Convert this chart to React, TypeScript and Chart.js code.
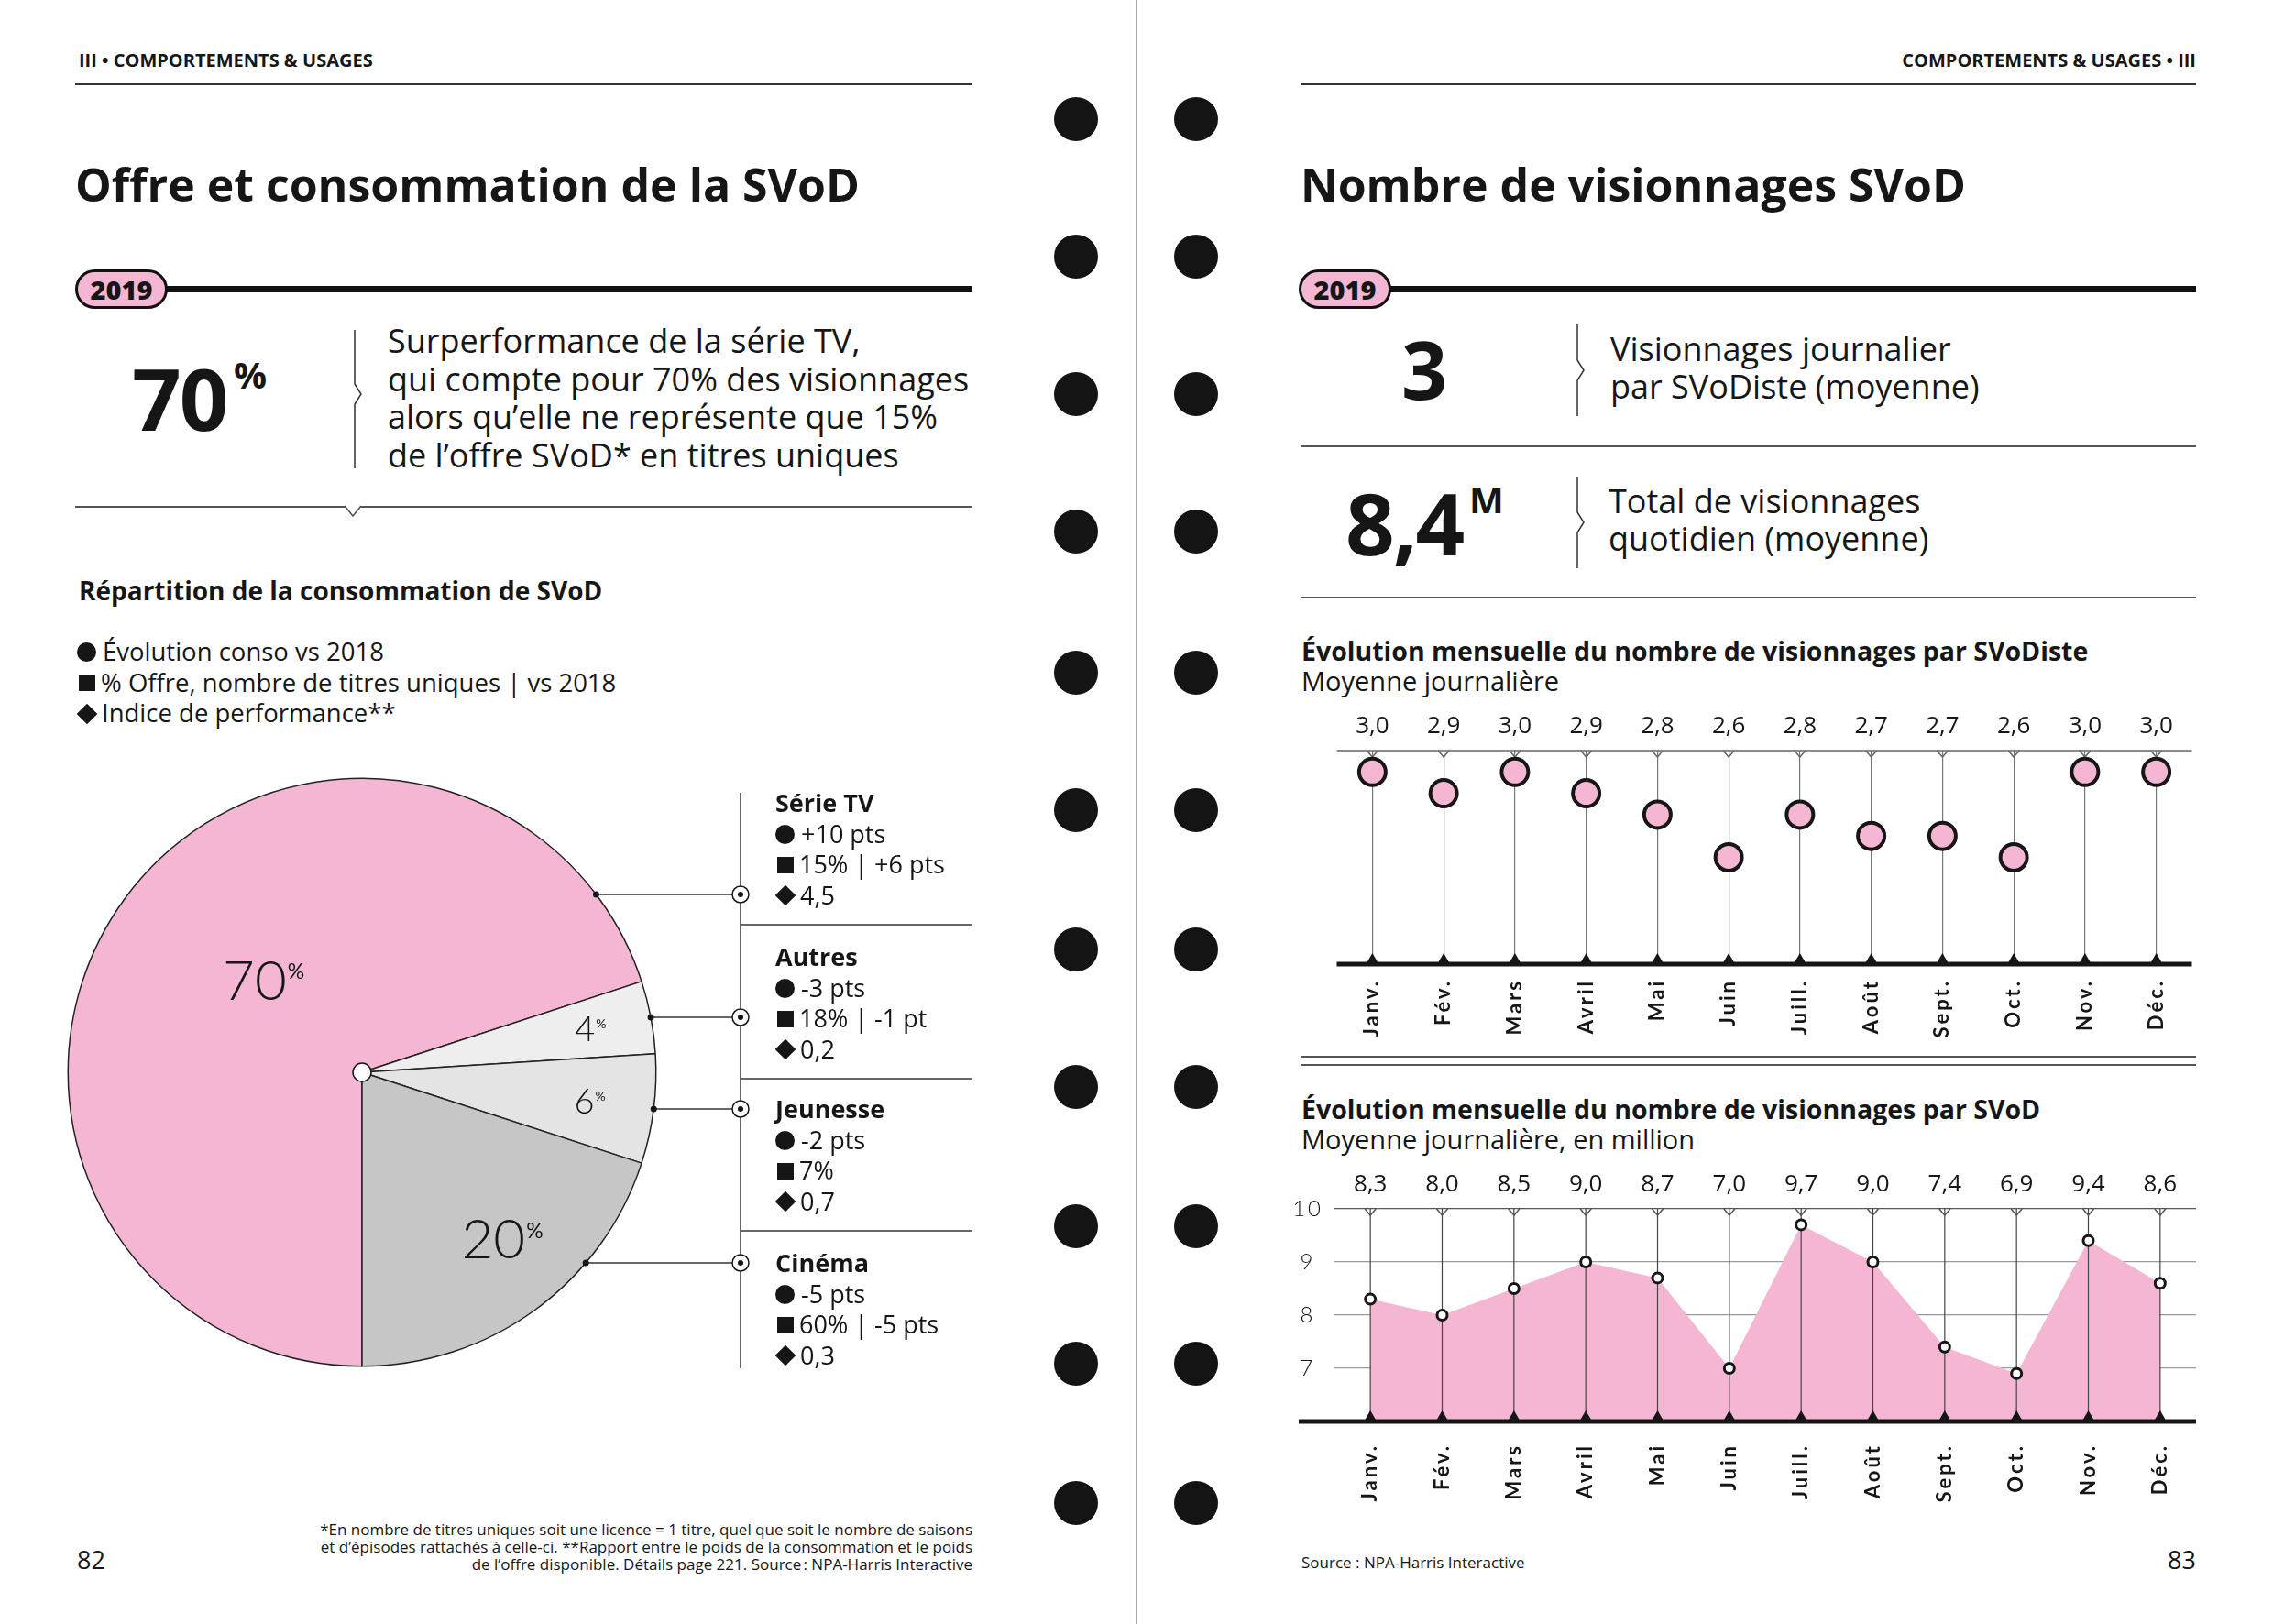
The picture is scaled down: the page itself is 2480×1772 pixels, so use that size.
import React, { useEffect, useRef } from 'react';
import { Chart, registerables } from 'chart.js';

Chart.register(...registerables);

// ---------------- data ----------------
const pieCategories = ['Série TV', 'Autres', 'Jeunesse', 'Cinéma'];
const pieShares = [70, 4, 6, 20];
const consoVs2018 = ['+10 pts', '-3 pts', '-2 pts', '-5 pts'];
const offreTitres = ['15% | +6 pts', '18% | -1 pt', '7%', '60% | -5 pts'];
const indicePerf = ['4,5', '0,2', '0,7', '0,3'];

const months = ['Janv.', 'Fév.', 'Mars', 'Avril', 'Mai', 'Juin', 'Juill.', 'Août', 'Sept.', 'Oct.', 'Nov.', 'Déc.'];
const visionnagesParSvodiste = [3.0, 2.9, 3.0, 2.9, 2.8, 2.6, 2.8, 2.7, 2.7, 2.6, 3.0, 3.0];
const visionnagesTotalM = [8.3, 8.0, 8.5, 9.0, 8.7, 7.0, 9.7, 9.0, 7.4, 6.9, 9.4, 8.6];
const totalAxisTicks = [7, 8, 9, 10];

// ---------------- style ----------------
const PINK = '#f5b6d3';
const INK = '#161616';
const FONT = "'Open Sans', 'Noto Sans', sans-serif";
const CFONT = "Lato, 'Noto Sans', sans-serif";
const pieColors = [PINK, '#eeeeee', '#e4e4e4', '#c6c6c6'];
const PIE_LABEL_R = [0.46, 0.79, 0.78, 0.74];
const PIE_LABEL_DA = [7, 0, 0, -4]; // degrees shift from slice middle
const PIE_LABEL_SIZE = [60, 38, 38, 60];

const fmt = (v: number) => v.toFixed(1).replace('.', ',');

// pie canvas geometry (page coords)
const PIE_LEFT = 40;
const PIE_TOP = 820;
const PIE_W = 1030;
const PIE_H = 700;

function drawPct(ctx: CanvasRenderingContext2D, x: number, y: number, num: string, size: number) {
  ctx.textAlign = 'left';
  ctx.textBaseline = 'alphabetic';
  ctx.font = `300 ${size}px ${CFONT}`;
  const w1 = ctx.measureText(num).width;
  const s2 = Math.round(size * 0.38);
  ctx.font = `400 ${s2}px ${CFONT}`;
  const w2 = ctx.measureText('%').width;
  const x0 = x - (w1 + w2) / 2;
  const base = y + size * 0.36;
  ctx.fillStyle = INK;
  ctx.font = `300 ${size}px ${CFONT}`;
  ctx.fillText(num, x0, base);
  ctx.font = `400 ${s2}px ${CFONT}`;
  ctx.fillText('%', x0 + w1 + 1, base - size * 0.38);
}

function seg(ctx: CanvasRenderingContext2D, x1: number, y1: number, x2: number, y2: number) {
  ctx.beginPath();
  ctx.moveTo(x1, y1);
  ctx.lineTo(x2, y2);
  ctx.stroke();
}

const piePlugin = {
  id: 'pieDecor',
  afterDatasetsDraw(chart: any) {
    const ctx: CanvasRenderingContext2D = chart.ctx;
    const arcs = chart.getDatasetMeta(0).data;
    const cx = arcs[0].x;
    const cy = arcs[0].y;
    const r = arcs[0].outerRadius;
    ctx.save();
    arcs.forEach((arc: any, i: number) => {
      const a = (arc.startAngle + arc.endAngle) / 2 + (PIE_LABEL_DA[i] * Math.PI) / 180;
      const f = PIE_LABEL_R[i];
      drawPct(ctx, cx + Math.cos(a) * r * f, cy + Math.sin(a) * r * f, String(pieShares[i]), PIE_LABEL_SIZE[i]);
    });
    // centre
    ctx.beginPath();
    ctx.arc(cx, cy, 10, 0, Math.PI * 2);
    ctx.fillStyle = '#fff';
    ctx.fill();
    ctx.lineWidth = 1.5;
    ctx.strokeStyle = INK;
    ctx.stroke();
    // callout column
    const colX = 808 - PIE_LEFT;
    const colRight = 1061 - PIE_LEFT;
    ctx.strokeStyle = '#333';
    ctx.lineWidth = 1.5;
    seg(ctx, colX, 865 - PIE_TOP, colX, 1493 - PIE_TOP);
    [1009, 1177, 1343].forEach((y) => seg(ctx, colX, y - PIE_TOP, colRight, y - PIE_TOP));
    const rows = [976, 1110, 1210, 1378];
    rows.forEach((py) => {
      const y = py - PIE_TOP;
      const dy = y - cy;
      const ex = cx + Math.sqrt(Math.max(r * r - dy * dy, 0));
      ctx.strokeStyle = '#333';
      ctx.lineWidth = 1.5;
      seg(ctx, ex, y, colX, y);
      ctx.fillStyle = INK;
      ctx.beginPath();
      ctx.arc(ex, y, 3.5, 0, Math.PI * 2);
      ctx.fill();
      ctx.beginPath();
      ctx.arc(colX, y, 9, 0, Math.PI * 2);
      ctx.fillStyle = '#fff';
      ctx.fill();
      ctx.strokeStyle = INK;
      ctx.stroke();
      ctx.beginPath();
      ctx.arc(colX, y, 3, 0, Math.PI * 2);
      ctx.fillStyle = INK;
      ctx.fill();
    });
    ctx.restore();
  },
};

function drawTopNotches(chart: any, color: string) {
  const ctx: CanvasRenderingContext2D = chart.ctx;
  const { top } = chart.chartArea;
  const xs = chart.scales.x;
  ctx.save();
  ctx.strokeStyle = color;
  ctx.lineWidth = 1.5;
  for (let i = 0; i < months.length; i++) {
    const x = xs.getPixelForTick(i);
    ctx.beginPath();
    ctx.moveTo(x - 6, top);
    ctx.lineTo(x, top + 7);
    ctx.lineTo(x + 6, top);
    ctx.stroke();
  }
  ctx.restore();
}

function drawBottom(chart: any, fromX: number) {
  const ctx: CanvasRenderingContext2D = chart.ctx;
  const { right, bottom } = chart.chartArea;
  const xs = chart.scales.x;
  ctx.save();
  ctx.fillStyle = INK;
  for (let i = 0; i < months.length; i++) {
    const x = xs.getPixelForTick(i);
    ctx.beginPath();
    ctx.moveTo(x - 7, bottom);
    ctx.lineTo(x, bottom - 12);
    ctx.lineTo(x + 7, bottom);
    ctx.closePath();
    ctx.fill();
  }
  ctx.fillRect(fromX, bottom - 2.5, right - fromX, 5);
  ctx.restore();
}

function drawValues(chart: any, values: number[]) {
  const ctx: CanvasRenderingContext2D = chart.ctx;
  const { top } = chart.chartArea;
  const xs = chart.scales.x;
  ctx.save();
  (ctx as any).letterSpacing = '0px';
  ctx.fillStyle = INK;
  ctx.font = `500 26px ${FONT}`;
  ctx.textAlign = 'center';
  ctx.textBaseline = 'middle';
  values.forEach((v, i) => ctx.fillText(fmt(v), xs.getPixelForTick(i), top - 26));
  ctx.restore();
}

const lollipopPlugin = {
  id: 'lollipopDecor',
  beforeDraw(chart: any) {
    (chart.ctx as any).letterSpacing = '3px';
  },
  beforeDatasetsDraw(chart: any) {
    const ctx: CanvasRenderingContext2D = chart.ctx;
    (ctx as any).letterSpacing = '0px';
    const { left, right, top } = chart.chartArea;
    ctx.save();
    ctx.strokeStyle = '#666';
    ctx.lineWidth = 1.5;
    seg(ctx, left, top, right, top);
    ctx.restore();
    drawTopNotches(chart, '#666');
  },
  afterDatasetsDraw(chart: any) {
    drawBottom(chart, chart.chartArea.left);
  },
  afterDraw(chart: any) {
    drawValues(chart, visionnagesParSvodiste);
  },
};

const areaPlugin = {
  id: 'areaDecor',
  beforeDraw(chart: any) {
    (chart.ctx as any).letterSpacing = '3px';
  },
  beforeDatasetsDraw(chart: any) {
    (chart.ctx as any).letterSpacing = '0px';
  },
  afterDatasetDraw(chart: any, args: any) {
    if (args.index !== 0) return;
    const ctx: CanvasRenderingContext2D = chart.ctx;
    const { top, bottom } = chart.chartArea;
    const xs = chart.scales.x;
    ctx.save();
    ctx.strokeStyle = '#444';
    ctx.lineWidth = 1.2;
    for (let i = 0; i < months.length; i++) {
      const x = xs.getPixelForTick(i);
      seg(ctx, x, top, x, bottom);
    }
    ctx.restore();
    drawTopNotches(chart, '#555');
  },
  afterDatasetsDraw(chart: any) {
    drawBottom(chart, 17);
  },
  afterDraw(chart: any) {
    drawValues(chart, visionnagesTotalM);
  },
};

const monthTicks = {
  autoSkip: false,
  maxRotation: 90,
  minRotation: 90,
  padding: 16,
  color: INK,
  font: { family: CFONT, size: 22, weight: 'bold' as const },
};

// ---------------- small layout helpers ----------------
const abs = (x: number, y: number, extra: any = {}) => ({ position: 'absolute' as const, left: x, top: y, ...extra });

function Txt({ x, y, size, weight = 400, lh, children, right, style }: any) {
  const s: any = {
    position: 'absolute',
    top: y,
    fontSize: size,
    fontWeight: weight,
    lineHeight: `${lh ?? Math.round(size * 1.2)}px`,
    whiteSpace: 'pre',
    ...style,
  };
  if (right !== undefined) {
    s.right = 2480 - right;
    s.textAlign = 'right';
  } else s.left = x;
  return <div style={s}>{children}</div>;
}

function HLine({ x1, x2, y, h = 2, color = '#444' }: any) {
  return <div style={abs(x1, y - h / 2, { width: x2 - x1, height: h, background: color })} />;
}

function Bracket({ x, y1, y2, ym }: any) {
  const m = ym - y1;
  return (
    <svg style={abs(x - 2, y1, { overflow: 'visible' })} width={14} height={y2 - y1}>
      <polyline
        points={`2,0 2,${m - 11} 9,${m} 2,${m + 11} 2,${y2 - y1}`}
        fill="none"
        stroke="#333"
        strokeWidth={1.5}
      />
    </svg>
  );
}

function Badge({ x }: any) {
  return (
    <div
      style={abs(x, 294, {
        width: 101,
        height: 43,
        boxSizing: 'border-box',
        border: '3px solid #111',
        borderRadius: 22,
        background: PINK,
        fontWeight: 800,
        fontSize: 29,
        lineHeight: '37px',
        textAlign: 'center',
        zIndex: 2,
      })}
    >
      2019
    </div>
  );
}

function Sym({ kind }: { kind: 'c' | 's' | 'd' }) {
  const base: any = { display: 'inline-block', background: INK, marginRight: 7, verticalAlign: 'middle', position: 'relative', top: -2 };
  if (kind === 'c') return <span style={{ ...base, width: 21, height: 21, borderRadius: '50%' }} />;
  if (kind === 's') return <span style={{ ...base, width: 18, height: 18, marginLeft: 2, marginRight: 6 }} />;
  return <span style={{ ...base, width: 16, height: 16, transform: 'rotate(45deg)', marginLeft: 3, marginRight: 8 }} />;
}

export default function App() {
  const pieRef = useRef<HTMLCanvasElement>(null);
  const dotRef = useRef<HTMLCanvasElement>(null);
  const areaRef = useRef<HTMLCanvasElement>(null);

  useEffect(() => {
    const charts: Chart[] = [];

    charts.push(
      new Chart(pieRef.current as HTMLCanvasElement, {
        type: 'pie',
        data: {
          labels: pieCategories,
          datasets: [
            {
              data: pieShares,
              backgroundColor: pieColors,
              borderColor: '#222',
              borderWidth: 1.5,
            },
          ],
        },
        options: {
          animation: false,
          responsive: false,
          events: [],
          rotation: 180,
          layout: { padding: { left: 33.5, right: 353.5, top: 28.5, bottom: 28.5 } },
          plugins: { legend: { display: false }, tooltip: { enabled: false } },
        },
        plugins: [piePlugin],
      } as any)
    );

    charts.push(
      new Chart(dotRef.current as HTMLCanvasElement, {
        type: 'line',
        data: {
          labels: months,
          datasets: [
            {
              data: visionnagesParSvodiste,
              showLine: false,
              pointRadius: 14.5,
              pointHoverRadius: 14.5,
              pointBorderWidth: 4,
              pointBackgroundColor: PINK,
              pointBorderColor: INK,
              clip: false,
            },
          ],
        },
        options: {
          animation: false,
          responsive: false,
          events: [],
          layout: { padding: { top: 49, left: 13, right: 14, bottom: 0 } },
          plugins: { legend: { display: false }, tooltip: { enabled: false } },
          scales: {
            x: {
              offset: true,
              grid: { offset: false, color: '#777', lineWidth: 1.2, drawTicks: false },
              border: { display: false },
              ticks: monthTicks,
              afterFit: (s: any) => {
                s.height = 88;
              },
            },
            y: { display: false, min: 2.1, max: 3.1 },
          },
        },
        plugins: [lollipopPlugin],
      } as any)
    );

    charts.push(
      new Chart(areaRef.current as HTMLCanvasElement, {
        type: 'line',
        data: {
          labels: months,
          datasets: [
            {
              data: visionnagesTotalM,
              fill: 'start',
              backgroundColor: PINK,
              borderWidth: 0,
              borderColor: 'rgba(0,0,0,0)',
              pointRadius: 0,
              tension: 0,
              order: 2,
            },
            {
              data: visionnagesTotalM,
              showLine: false,
              pointRadius: 5.5,
              pointHoverRadius: 5.5,
              pointBorderWidth: 3,
              pointBackgroundColor: '#fff',
              pointBorderColor: INK,
              order: 1,
              clip: false,
            },
          ],
        },
        options: {
          animation: false,
          responsive: false,
          events: [],
          layout: { padding: { top: 54, left: 0, right: 14, bottom: 0 } },
          plugins: { legend: { display: false }, tooltip: { enabled: false } },
          scales: {
            x: {
              offset: true,
              grid: { display: false },
              border: { display: false },
              ticks: monthTicks,
              afterFit: (s: any) => {
                s.height = 88;
              },
            },
            y: {
              min: 6,
              max: 10,
              afterBuildTicks: (s: any) => {
                s.ticks = totalAxisTicks.map((v) => ({ value: v }));
              },
              grid: {
                color: (c: any) => (c.tick && c.tick.value === 10 ? '#555' : '#9a9a9a'),
                lineWidth: 1.3,
                drawTicks: false,
              },
              border: { display: false },
              ticks: {
                crossAlign: 'center',
                padding: 15,
                color: INK,
                font: { family: CFONT, size: 24, weight: '300' },
              },
              afterFit: (s: any) => {
                s.width = 56;
              },
            },
          },
        },
        plugins: [areaPlugin],
      } as any)
    );

    return () => charts.forEach((c) => c.destroy());
  }, []);

  const holesY = [130, 280, 430, 580, 734, 884, 1036, 1186, 1338, 1488, 1640];
  const calloutTops = [859, 1027, 1193, 1361];

  return (
    <div
      style={{
        position: 'absolute',
        left: 0,
        top: 0,
        width: 2480,
        height: 1772,
        background: '#fff',
        overflow: 'hidden',
        fontFamily: FONT,
        color: INK,
      }}
    >
      {/* ---------- LEFT PAGE ---------- */}
      <Txt x={86} y={53} size={20} weight={700} lh={26}>
        III • COMPORTEMENTS &amp; USAGES
      </Txt>
      <HLine x1={82} x2={1061} y={92} h={2} color="#333" />
      <Txt x={82} y={170} size={50} weight={700} lh={62}>
        Offre et consommation de la SVoD
      </Txt>
      <HLine x1={180} x2={1061} y={315} h={7} color="#111" />
      <Badge x={82} />

      <div style={abs(144, 382, { fontSize: 94, fontWeight: 700, lineHeight: '104px', letterSpacing: -2 })}>70</div>
      <div style={abs(255, 388, { fontSize: 40, fontWeight: 700, lineHeight: '42px' })}>%</div>
      <Bracket x={387} y1={360} y2={511} ym={430} />
      <Txt x={423} y={351} size={36} weight={400} lh={41.5}>
        {'Surperformance de la série TV,\nqui compte pour 70% des visionnages\nalors qu\u2019elle ne représente que 15%\nde l\u2019offre SVoD* en titres uniques'}
      </Txt>
      <HLine x1={82} x2={1061} y={553} h={2} color="#555" />
      <svg style={abs(374, 552, { overflow: 'visible' })} width={22} height={14}>
        <polyline points="2,0 11,11 20,0" fill="#fff" stroke="#555" strokeWidth={1.6} />
      </svg>

      <Txt x={86} y={627} size={28} weight={700} lh={34}>
        Répartition de la consommation de SVoD
      </Txt>
      <div style={abs(84, 694, { fontSize: 27.5, lineHeight: '33.5px', whiteSpace: 'pre' })}>
        <div><Sym kind="c" />Évolution conso vs 2018</div>
        <div><Sym kind="s" />% Offre, nombre de titres uniques | vs 2018</div>
        <div><Sym kind="d" />Indice de performance**</div>
      </div>

      <canvas
        ref={pieRef}
        width={PIE_W}
        height={PIE_H}
        style={abs(PIE_LEFT, PIE_TOP, { width: PIE_W, height: PIE_H })}
      />

      {pieCategories.map((cat, i) => (
        <div key={cat} style={abs(846, calloutTops[i], { fontSize: 27, lineHeight: '33.5px', whiteSpace: 'pre' })}>
          <div style={{ fontWeight: 700 }}>{cat}</div>
          <div><Sym kind="c" />{consoVs2018[i]}</div>
          <div><Sym kind="s" />{offreTitres[i]}</div>
          <div><Sym kind="d" />{indicePerf[i]}</div>
        </div>
      ))}

      <Txt right={1061} y={1659} size={17} weight={400} lh={19}>
        {'*En nombre de titres uniques soit une licence = 1 titre, quel que soit le nombre de saisons\net d\u2019épisodes rattachés à celle-ci. **Rapport entre le poids de la consommation et le poids\nde l\u2019offre disponible. Détails page 221. Source\u202f: NPA-Harris Interactive'}
      </Txt>
      <Txt x={84} y={1686} size={27} weight={500} lh={32}>
        82
      </Txt>

      {/* ---------- BINDER ---------- */}
      <div style={abs(1239, 0, { width: 2, height: 1772, background: '#a8a8a8' })} />
      {holesY.map((y) => (
        <React.Fragment key={y}>
          <div style={abs(1174 - 24, y - 24, { width: 48, height: 48, borderRadius: '50%', background: '#141414' })} />
          <div style={abs(1305 - 24, y - 24, { width: 48, height: 48, borderRadius: '50%', background: '#141414' })} />
        </React.Fragment>
      ))}

      {/* ---------- RIGHT PAGE ---------- */}
      <Txt right={2396} y={53} size={20} weight={700} lh={26}>
        COMPORTEMENTS &amp; USAGES • III
      </Txt>
      <HLine x1={1419} x2={2396} y={92} h={2} color="#333" />
      <Txt x={1419} y={170} size={50} weight={700} lh={62}>
        Nombre de visionnages SVoD
      </Txt>
      <HLine x1={1515} x2={2396} y={315} h={7} color="#111" />
      <Badge x={1417} />

      <div style={abs(1529, 352, { fontSize: 88, fontWeight: 700, lineHeight: '100px' })}>3</div>
      <Bracket x={1721} y1={354} y2={454} ym={404} />
      <Txt x={1757} y={360} size={36} weight={400} lh={41}>
        {'Visionnages journalier\npar SVoDiste (moyenne)'}
      </Txt>
      <HLine x1={1419} x2={2396} y={487} h={2} color="#555" />

      <div style={abs(1468, 518, { fontSize: 94, fontWeight: 700, lineHeight: '104px', letterSpacing: -2 })}>8,4</div>
      <div style={abs(1603, 524, { fontSize: 40, fontWeight: 700, lineHeight: '42px' })}>M</div>
      <Bracket x={1721} y1={520} y2={620} ym={570} />
      <Txt x={1755} y={526} size={36} weight={400} lh={41}>
        {'Total de visionnages\nquotidien (moyenne)'}
      </Txt>
      <HLine x1={1419} x2={2396} y={652} h={2} color="#555" />

      <Txt x={1420} y={693} size={28.5} weight={700} lh={34}>
        Évolution mensuelle du nombre de visionnages par SVoDiste
      </Txt>
      <Txt x={1420} y={726} size={29} weight={400} lh={34}>
        Moyenne journalière
      </Txt>
      <canvas ref={dotRef} width={970} height={370} style={abs(1440, 770, { width: 970, height: 370 })} />

      <HLine x1={1419} x2={2396} y={1153} h={1.6} color="#555" />
      <HLine x1={1419} x2={2396} y={1162} h={1.6} color="#555" />

      <Txt x={1420} y={1193} size={28.5} weight={700} lh={34}>
        Évolution mensuelle du nombre de visionnages par SVoD
      </Txt>
      <Txt x={1420} y={1226} size={29} weight={400} lh={34}>
        Moyenne journalière, en million
      </Txt>
      <canvas ref={areaRef} width={1010} height={374} style={abs(1400, 1265, { width: 1010, height: 374 })} />

      <Txt x={1420} y={1695} size={17} weight={400} lh={20}>
        Source : NPA-Harris Interactive
      </Txt>
      <Txt right={2396} y={1686} size={27} weight={500} lh={32}>
        83
      </Txt>
    </div>
  );
}
